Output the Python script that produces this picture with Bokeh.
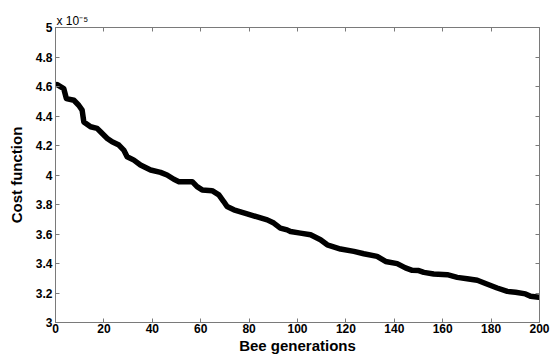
from bokeh.plotting import figure
from bokeh.models import LinearAxis, FixedTicker, Title, Range1d
from bokeh.embed import file_html
from bokeh.resources import INLINE

# Data (cost function values in units of 1e-5)
generations = [0.7, 3.4, 4.5, 7.6, 9.6, 11.0, 11.7, 14.5, 17.2, 18.6, 21.4, 23.4,
               26.2, 28.2, 29.6, 32.4, 35.1, 39.3, 43.4, 46.1, 48.9, 51.0, 56.5,
               58.5, 60.6, 64.7, 67.5, 69.5, 70.9, 73.7, 79.2, 87.5, 90.2, 92.9,
               95.7, 97.1, 101.2, 105.4, 109.5, 112.3, 117.8, 123.3, 127.4, 132.9,
               136.4, 141.2, 144.6, 147.4, 150.1, 152.2, 156.3, 161.9, 166.0,
               170.1, 174.3, 177.7, 182.5, 186.7, 190.1, 194.2, 196.3, 199.7]
cost_e5 = [4.613, 4.586, 4.518, 4.507, 4.473, 4.44, 4.36, 4.327, 4.316, 4.293,
           4.248, 4.225, 4.203, 4.169, 4.124, 4.101, 4.068, 4.034, 4.018, 4.0,
           3.971, 3.955, 3.955, 3.921, 3.899, 3.894, 3.865, 3.82, 3.786, 3.764,
           3.736, 3.696, 3.674, 3.64, 3.628, 3.617, 3.606, 3.595, 3.561, 3.527,
           3.498, 3.482, 3.466, 3.448, 3.414, 3.399, 3.37, 3.354, 3.352, 3.34,
           3.329, 3.324, 3.306, 3.297, 3.286, 3.264, 3.234, 3.211, 3.205, 3.194,
           3.178, 3.171]

x_ticks = [0, 20, 40, 60, 80, 100, 120, 140, 160, 180, 200]
y_ticks = [3.0, 3.2, 3.4, 3.6, 3.8, 4.0, 4.2, 4.4, 4.6, 4.8, 5.0]
y_tick_labels = ["3", "3.2", "3.4", "3.6", "3.8", "4", "4.2", "4.4", "4.6", "4.8", "5"]
scale_text = "x 10\u207b\u2075"

FONT = "Liberation Sans"
AX = "#7a7a7a"

p = figure(width=555, height=356, output_backend="svg", toolbar_location=None,
           x_range=Range1d(0, 200), y_range=Range1d(3, 5),
           x_axis_location=None, y_axis_location=None,
           min_border_left=55, min_border_right=16, min_border_top=27,
           min_border_bottom=33)
p.grid.visible = False
p.outline_line_color = AX
p.background_fill_color = "white"
p.border_fill_color = "white"

def style(ax, labels=True):
    ax.axis_line_color = AX
    ax.major_tick_line_color = AX
    ax.major_tick_in = 4
    ax.major_tick_out = 0
    ax.minor_tick_line_color = None
    ax.major_label_text_font = FONT
    ax.major_label_text_font_style = "bold"
    ax.major_label_text_font_size = "12px"
    ax.major_label_text_color = "black"
    ax.axis_label_text_font = FONT
    ax.axis_label_text_font_style = "bold"
    ax.axis_label_text_font_size = "15px"
    ax.axis_label_text_color = "black"

xb = LinearAxis(ticker=FixedTicker(ticks=x_ticks), axis_label="Bee generations")
style(xb)
xb.major_label_standoff = 1
xb.axis_label_standoff = 1
p.add_layout(xb, "below")

yl = LinearAxis(ticker=FixedTicker(ticks=y_ticks), axis_label="Cost function")
style(yl)
yl.major_label_overrides = {t: l for t, l in zip(y_ticks, y_tick_labels)}
yl.major_label_standoff = 3
yl.axis_label_standoff = 8
p.add_layout(yl, "left")

xt = LinearAxis(ticker=FixedTicker(ticks=x_ticks))
style(xt)
xt.major_label_overrides = {t: "" for t in x_ticks}
xt.major_label_standoff = 0
p.add_layout(xt, "above")

yr = LinearAxis(ticker=FixedTicker(ticks=y_ticks))
style(yr)
yr.major_label_overrides = {t: "" for t in y_ticks}
yr.major_label_standoff = 0
p.add_layout(yr, "right")

p.line(generations, cost_e5, line_color="black", line_width=5.5,
       line_join="round", line_cap="round")

p.add_layout(Title(text=scale_text, align="left", offset=1, standoff=0,
                   text_font=FONT, text_font_size="12px",
                   text_font_style="normal", text_color="black"), "above")

open("out.html", "w").write(file_html(p, INLINE))
